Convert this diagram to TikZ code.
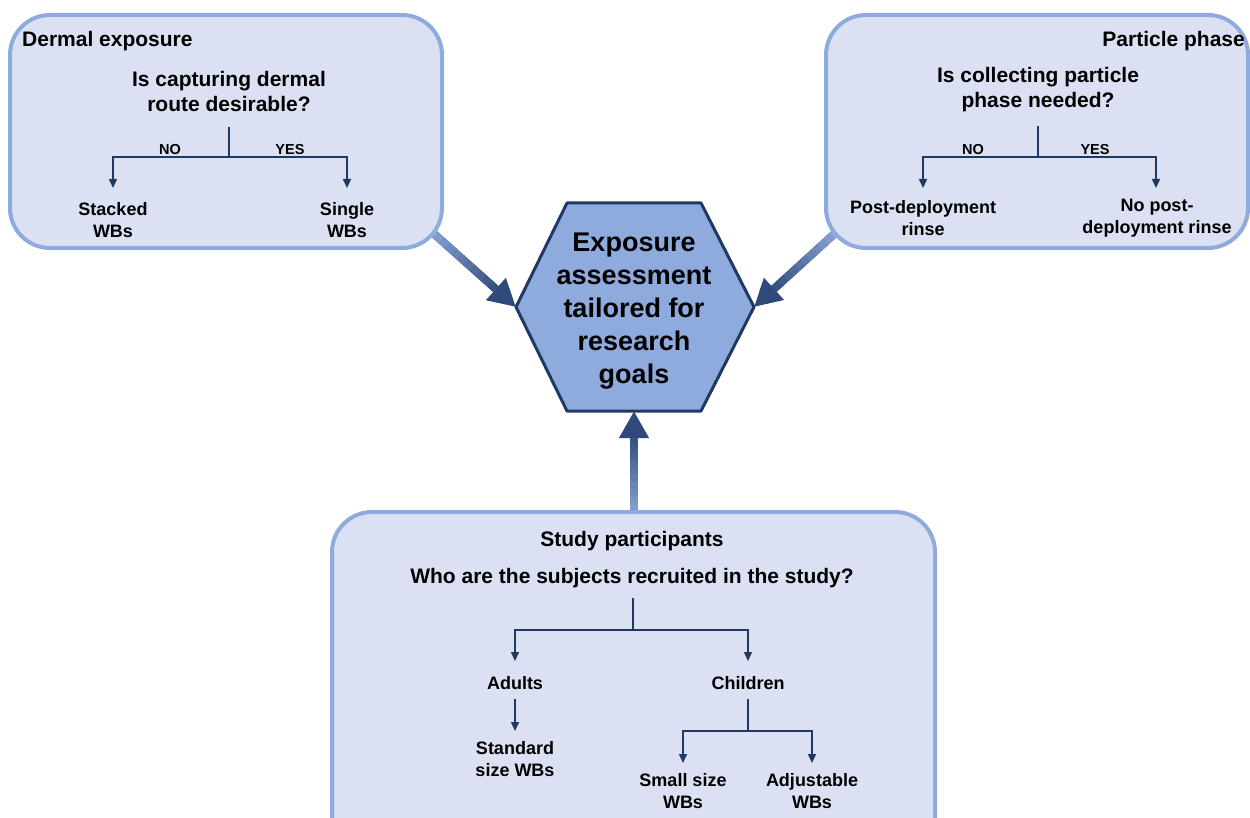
\documentclass[tikz,border=0pt]{standalone}
\usepackage{fontspec}
\setmainfont{Liberation Sans}
\usetikzlibrary{arrows.meta,calc}
\definecolor{panelfill}{RGB}{219,224,243}
\definecolor{panelline}{RGB}{143,170,220}
\definecolor{hexfill}{RGB}{143,170,220}
\definecolor{navy}{RGB}{31,56,100}
\definecolor{arrowlight}{RGB}{143,170,220}
\definecolor{arrowdark}{RGB}{47,74,122}
\tikzset{
 panel/.style={draw=panelline,fill=panelfill,line width=4pt,rounded corners=40pt},
 goalhex/.style={draw=navy,fill=hexfill,line width=3pt,line join=round},
 goaltext/.style={align=center,inner sep=0,font=\fontsize{27}{33}\selectfont\bfseries},
 heading/.style={inner sep=0,font=\fontsize{21}{25}\selectfont\bfseries},
 question/.style={align=center,inner sep=0,font=\fontsize{21}{25}\selectfont\bfseries},
 choice/.style={inner sep=0,font=\fontsize{14.5}{17}\selectfont\bfseries},
 outcome/.style={align=center,inner sep=0,font=\fontsize{18}{22}\selectfont\bfseries},
 branch/.style={draw=navy,line width=1.5pt},
 branchto/.style={branch,-{Triangle[length=9pt,width=8pt]}},
 bigarrow/.style={draw=arrowdark,fill=arrowdark,line width=8pt,-{Triangle[length=27pt,width=28pt]}},
 bigstem/.style={line width=8pt}
}

\begin{document}
\begin{tikzpicture}[x=1pt,y=-1pt]
\useasboundingbox (0,0) rectangle (1250,818);
\clip (0,0) rectangle (1250,818);
% central hexagon
\coordinate (goalwest) at (516,307);
\coordinate (goaleast) at (754,307);
\coordinate (goalsouth) at (634,411);
\draw[goalhex] (goalwest) -- (567,203) -- (701,203) -- (goaleast) -- (701,411) -- (567,411) -- cycle;
\node[goaltext] (goal) at (634,311) {Exposure\\assessment\\tailored for\\research\\goals};
% thick arrows into the hexagon
\coordinate (dermalout) at (423,224);
\coordinate (particleout) at (843,226);
\coordinate (studyout) at (634,525);
\foreach \src/\dst in {dermalout/goalwest,particleout/goaleast,studyout/goalsouth}{
  \draw[bigarrow] (\src) -- (\dst);
  \coordinate (neck) at ($(\dst)!27pt!(\src)$);
  \foreach \k in {0,...,11}{
    \pgfmathtruncatemacro{\p}{\k*100/12}
    \draw[bigstem,arrowdark!\p!arrowlight] ($(\src)!\k/12!(neck)$) -- ($(\src)!{(\k+1.05)/12}!(neck)$);
  }
}
% dermal exposure
\draw[panel] (10,15) rectangle (442,248);
\node[heading,anchor=west] (dermal) at (22,41) {Dermal exposure};
\node[question] (dermalq) at (229,91) {Is capturing dermal\\route desirable?};
\coordinate (dermaltop) at (229,127);
\coordinate (dermalfork) at (229,157);
\coordinate (dermalno) at (113,188);
\coordinate (dermalyes) at (347,188);
\draw[branch] (dermaltop) -- (dermalfork);
\draw[branchto] (dermalfork) -| (dermalno);
\draw[branchto] (dermalfork) -| (dermalyes);
\node[choice] (dermalnolab) at (170,150) {NO};
\node[choice] (dermalyeslab) at (290,150) {YES};
\node[outcome] (stacked) at (113,220) {Stacked\\WBs};
\node[outcome] (single) at (347,220) {Single\\WBs};
% particle phase
\draw[panel] (826,15) rectangle (1248,248);
\node[heading,anchor=east] (particle) at (1245,41) {Particle phase};
\node[question] (particleq) at (1038,90) {Is collecting particle\\phase needed?};
\coordinate (particletop) at (1038,126);
\coordinate (particlefork) at (1038,157);
\coordinate (particleno) at (923,188);
\coordinate (particleyes) at (1156,188);
\draw[branch] (particletop) -- (particlefork);
\draw[branchto] (particlefork) -| (particleno);
\draw[branchto] (particlefork) -| (particleyes);
\node[choice] (particlenolab) at (973,150) {NO};
\node[choice] (particleyeslab) at (1095,150) {YES};
\node[outcome] (rinse) at (923,218) {Post-deployment\\rinse};
\node[outcome] (norinse) at (1157,218) {No post-\\deployment rinse};
% study participants
\draw[panel] (332,512) rectangle (935,870);
\node[heading] (study) at (632,541) {Study participants};
\node[question] (studyq) at (632,578) {Who are the subjects recruited in the study?};
\coordinate (studytop) at (633,598);
\coordinate (studyfork) at (633,630);
\coordinate (studyadult) at (515,661);
\coordinate (studychild) at (748,661);
\draw[branch] (studytop) -- (studyfork);
\draw[branchto] (studyfork) -| (studyadult);
\draw[branchto] (studyfork) -| (studychild);
\node[outcome] (adults) at (515,683) {Adults};
\node[outcome] (children) at (748,683) {Children};
\coordinate (adulttop) at (515,699);
\coordinate (adultend) at (515,731);
\draw[branchto] (adulttop) -- (adultend);
\node[outcome] (standard) at (515,759) {Standard\\size WBs};
\coordinate (childtop) at (748,699);
\coordinate (childfork) at (748,731);
\coordinate (childsmall) at (683,763);
\coordinate (childadjust) at (812,763);
\draw[branch] (childtop) -- (childfork);
\draw[branchto] (childfork) -| (childsmall);
\draw[branchto] (childfork) -| (childadjust);
\node[outcome] (small) at (683,791) {Small size\\WBs};
\node[outcome] (adjustable) at (812,791) {Adjustable\\WBs};
\end{tikzpicture}
\end{document}
